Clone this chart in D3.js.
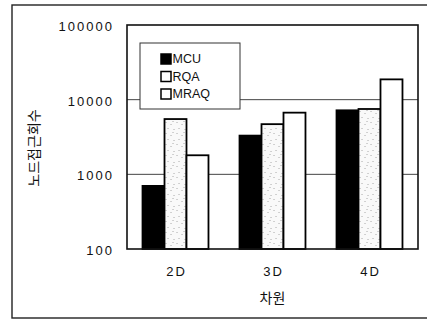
<!DOCTYPE html>
<html>
<head>
<meta charset="utf-8">
<script src="https://cdn.jsdelivr.net/npm/d3@7"></script>
<style>
  html, body { margin: 0; padding: 0; background: #fff; }
  svg { display: block; }
  .num { font-family: "Liberation Sans", Arial, sans-serif; font-size: 13px; letter-spacing: 2px; fill: #111; }
  .kr { font-family: "Noto Sans CJK KR", sans-serif; font-size: 14px; fill: #111; }
  .leg { font-family: "Liberation Sans", Arial, sans-serif; font-size: 12.5px; fill: #111; }
</style>
</head>
<body>
<svg id="chart" width="427" height="320"></svg>
<script>
// Node access counts per dimensionality, for each index structure
const categories = ["2D", "3D", "4D"];
const seriesNames = ["MCU", "RQA", "MRAQ"];
const mcu  = [700, 3300, 7200];
const rqa  = [5500, 4700, 7500];
const mraq = [1800, 6700, 18700];
const yTicks = [100, 1000, 10000, 100000];
const xTitle = "차원";
const yTitle = "노드접근회수";

const seriesValues = [mcu, rqa, mraq];

const svg = d3.select("#chart");
const plot = { left: 127, top: 25, right: 418, bottom: 249 };

// sparse stippled fill for the RQA bars
const defs = svg.append("defs");
const pat = defs.append("pattern")
  .attr("id", "stipple").attr("patternUnits", "userSpaceOnUse")
  .attr("width", 11).attr("height", 11);
pat.append("rect").attr("width", 11).attr("height", 11).attr("fill", "#f9f9f9");
[[1,1],[6,3],[3,7],[9,8],[8,0]].forEach(([x, y]) =>
  pat.append("rect").attr("x", x).attr("y", y).attr("width", 1).attr("height", 1).attr("fill", "#a8a8a8"));

const fills = ["#000", "url(#stipple)", "#fff"];

// outer frame
svg.append("rect")
  .attr("x", 12).attr("y", 5).attr("width", 420).attr("height", 313)
  .attr("fill", "none").attr("stroke", "#222").attr("stroke-width", 1.4);

const y = d3.scaleLog().domain([100, 100000]).range([plot.bottom, plot.top]);
const x = d3.scaleBand().domain(categories)
  .range([plot.left, plot.right]).paddingInner(0.32).paddingOuter(0.16);
const xs = d3.scaleBand().domain(seriesNames).range([0, x.bandwidth()]);

// horizontal gridlines
svg.append("g").selectAll("line")
  .data(yTicks.slice(1, -1))
  .join("line")
  .attr("x1", plot.left).attr("x2", plot.right)
  .attr("y1", d => y(d)).attr("y2", d => y(d))
  .attr("stroke", "#444").attr("stroke-width", 1);

// bars
const groups = svg.append("g").selectAll("g")
  .data(categories)
  .join("g")
  .attr("transform", d => `translate(${x(d)},0)`);

groups.selectAll("rect")
  .data((c, ci) => seriesNames.map((s, si) => ({ s, si, v: seriesValues[si][ci] })))
  .join("rect")
  .attr("x", d => xs(d.s))
  .attr("width", xs.bandwidth())
  .attr("y", d => y(d.v))
  .attr("height", d => y(100) - y(d.v))
  .attr("fill", d => fills[d.si])
  .attr("stroke", "#000")
  .attr("stroke-width", 1.8);

// plot border
svg.append("rect")
  .attr("x", plot.left).attr("y", plot.top)
  .attr("width", plot.right - plot.left).attr("height", plot.bottom - plot.top)
  .attr("fill", "none").attr("stroke", "#111").attr("stroke-width", 1.6);

// y axis labels
const yAxis = svg.append("g")
  .attr("transform", `translate(${plot.left},0)`)
  .call(d3.axisLeft(y).tickValues(yTicks).tickFormat(d3.format("d")).tickSize(0).tickPadding(13));
yAxis.select(".domain").remove();
yAxis.selectAll("text").attr("class", "num").attr("font-family", null).attr("font-size", null)
  .attr("dy", "0.42em");

// x axis labels
const xAxis = svg.append("g")
  .attr("transform", `translate(0,${plot.bottom})`)
  .call(d3.axisBottom(x).tickSize(0).tickPadding(18));
xAxis.select(".domain").remove();
xAxis.selectAll("text").attr("class", "num").attr("font-family", null).attr("font-size", null)
  .attr("dx", "1px");

// axis titles
svg.append("text").attr("class", "kr")
  .attr("x", (plot.left + plot.right) / 2).attr("y", 297)
  .attr("text-anchor", "middle").attr("dominant-baseline", "central")
  .text(xTitle);

svg.append("text").attr("class", "kr")
  .attr("transform", "translate(33,148) rotate(-90)")
  .attr("text-anchor", "middle").attr("dominant-baseline", "central")
  .text(yTitle);

// legend
const leg = svg.append("g").attr("transform", "translate(140,43)");
leg.append("rect").attr("width", 100).attr("height", 66)
  .attr("fill", "#fff").attr("stroke", "#333").attr("stroke-width", 1);
const legItems = leg.selectAll("g.item")
  .data(seriesNames)
  .join("g").attr("class", "item")
  .attr("transform", (d, i) => `translate(21,${11 + i * 17.5})`);
legItems.append("rect")
  .attr("width", 10).attr("height", 10)
  .attr("fill", (d, i) => i === 0 ? "#000" : "#fff")
  .attr("stroke", "#000").attr("stroke-width", 1.5);
legItems.append("text").attr("class", "leg")
  .attr("x", 11.5).attr("y", 5).attr("dominant-baseline", "central")
  .text(d => d);
</script>
</body>
</html>
